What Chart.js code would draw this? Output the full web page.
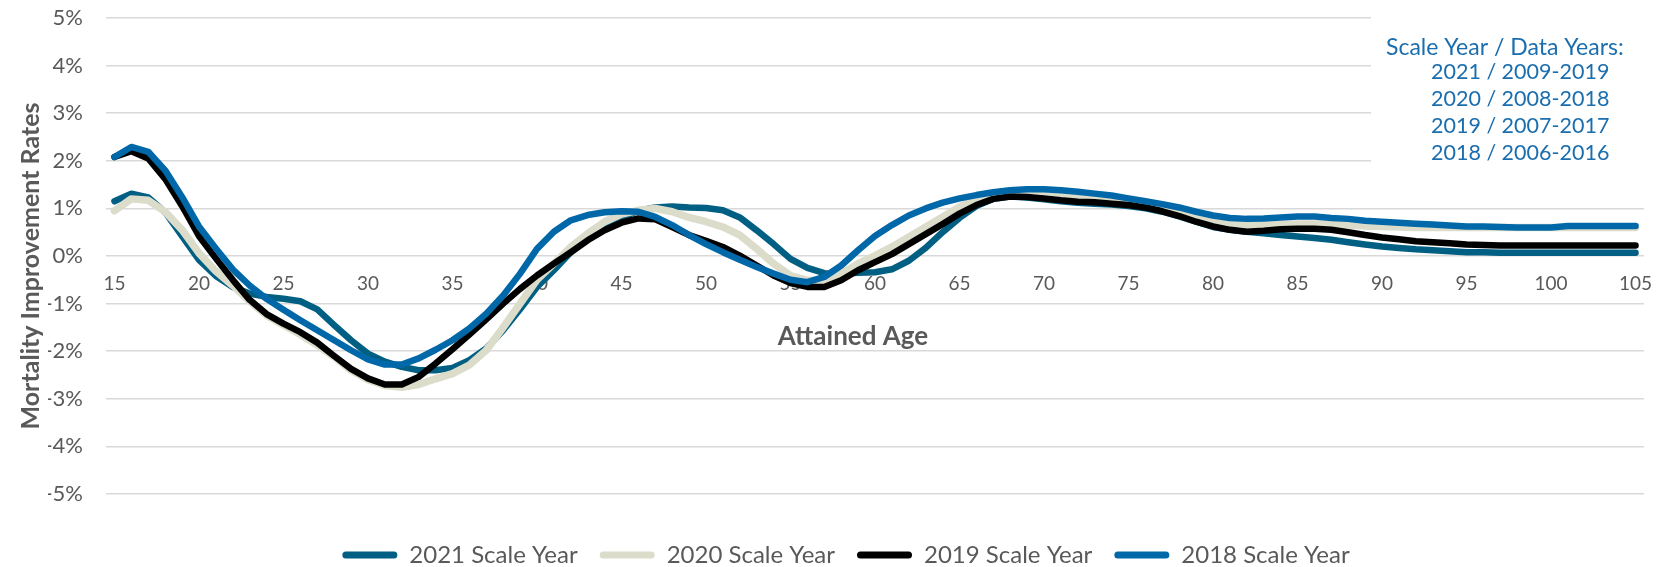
<!DOCTYPE html>
<html>
<head>
<meta charset="utf-8">
<script src="https://cdn.jsdelivr.net/npm/chart.js@4.4.1/dist/chart.umd.min.js"></script>
<style>
  html, body { margin: 0; padding: 0; background: #fff; }
  #wrap { width: 1658px; height: 567px; }
</style>
</head>
<body>
<div id="wrap"><canvas id="grafico_mir"></canvas></div>
<script>
const ages = [15,16,17,18,19,20,21,22,23,24,25,26,27,28,29,30,31,32,33,34,35,36,37,38,39,40,
  41,42,43,44,45,46,47,48,49,50,51,52,53,54,55,56,57,58,59,60,61,62,63,64,65,66,67,68,69,70,
  71,72,73,74,75,76,77,78,79,80,81,82,83,84,85,86,87,88,89,90,91,92,93,94,95,96,97,98,99,100,
  101,102,103,104,105];
const tickAges = [15,20,25,30,35,40,45,50,55,60,65,70,75,80,85,90,95,100,105];
const yTicks = [-5,-4,-3,-2,-1,0,1,2,3,4,5];

// mortality improvement rates, in %
const scale2021 = [1.15,1.31,1.23,0.92,0.42,-0.08,-0.42,-0.65,-0.79,-0.86,-0.9,-0.95,-1.12,-1.45,-1.77,-2.05,
  -2.22,-2.33,-2.4,-2.4,-2.35,-2.19,-1.94,-1.56,-1.12,-0.65,-0.3,0.08,0.37,0.61,0.81,0.95,1.02,1.04,1.02,1.01,
  0.96,0.81,0.54,0.25,-0.06,-0.25,-0.36,-0.37,-0.35,-0.34,-0.28,-0.1,0.17,0.5,0.8,1.05,1.2,1.25,1.23,1.19,
  1.15,1.12,1.1,1.08,1.05,1.0,0.93,0.83,0.72,0.61,0.55,0.51,0.48,0.44,0.41,0.38,0.34,0.29,0.24,0.2,
  0.17,0.14,0.12,0.1,0.08,0.08,0.07,0.07,0.07,0.07,0.07,0.07,0.07,0.07,0.07];
const scale2020 = [0.95,1.2,1.17,0.93,0.55,0.06,-0.32,-0.62,-0.95,-1.25,-1.45,-1.65,-1.87,-2.12,-2.4,-2.6,
  -2.72,-2.76,-2.7,-2.58,-2.47,-2.29,-1.98,-1.5,-1.0,-0.5,-0.16,0.19,0.47,0.72,0.88,0.96,1.0,0.93,0.81,0.72,
  0.61,0.44,0.15,-0.16,-0.41,-0.51,-0.51,-0.37,-0.16,0.01,0.19,0.4,0.61,0.82,1.03,1.2,1.32,1.37,1.38,1.36,
  1.32,1.28,1.24,1.2,1.16,1.11,1.04,0.96,0.86,0.76,0.69,0.65,0.65,0.66,0.67,0.67,0.66,0.65,0.63,0.62,
  0.61,0.6,0.6,0.6,0.6,0.6,0.6,0.6,0.6,0.6,0.6,0.6,0.6,0.6,0.6];
const scale2019 = [2.08,2.2,2.05,1.62,1.05,0.42,-0.05,-0.5,-0.92,-1.22,-1.42,-1.6,-1.82,-2.1,-2.37,-2.57,
  -2.7,-2.7,-2.54,-2.26,-1.96,-1.65,-1.33,-1.0,-0.69,-0.41,-0.16,0.08,0.33,0.54,0.7,0.79,0.77,0.61,0.44,0.32,
  0.19,0.01,-0.2,-0.41,-0.57,-0.65,-0.65,-0.51,-0.3,-0.13,0.04,0.25,0.46,0.67,0.89,1.07,1.2,1.25,1.24,1.21,
  1.17,1.14,1.13,1.1,1.07,1.02,0.94,0.84,0.72,0.62,0.55,0.51,0.53,0.56,0.57,0.57,0.55,0.5,0.44,0.39,
  0.35,0.31,0.29,0.27,0.24,0.23,0.22,0.22,0.22,0.22,0.22,0.22,0.22,0.22,0.22];
const scale2018 = [2.08,2.29,2.19,1.8,1.24,0.62,0.16,-0.28,-0.62,-0.9,-1.13,-1.35,-1.56,-1.77,-1.98,-2.17,
  -2.28,-2.28,-2.15,-1.97,-1.77,-1.52,-1.21,-0.83,-0.37,0.15,0.51,0.75,0.86,0.92,0.94,0.93,0.82,0.65,0.44,0.25,
  0.08,-0.08,-0.23,-0.37,-0.5,-0.55,-0.44,-0.2,0.12,0.42,0.65,0.85,1.0,1.12,1.21,1.28,1.34,1.38,1.4,1.4,
  1.38,1.35,1.31,1.27,1.21,1.15,1.09,1.02,0.93,0.85,0.8,0.78,0.79,0.81,0.83,0.83,0.8,0.78,0.74,0.72,
  0.7,0.68,0.66,0.64,0.62,0.62,0.61,0.6,0.6,0.6,0.63,0.63,0.63,0.63,0.63];

const notaLinhas = ['Scale Year / Data Years:', '2021 / 2009-2019', '2020 / 2008-2018', '2019 / 2007-2017', '2018 / 2006-2016'];
const tituloX = 'Attained Age';
const tituloY = 'Mortality Improvement Rates';

const fonte = 'Lato, "Open Sans", sans-serif';
const cinza = '#595959';

// caixa de texto no canto superior direito + títulos dos eixos
const notaPlugin = {
  id: 'nota',
  afterDraw(chart) {
    const c = chart.ctx;
    c.save();
    c.fillStyle = '#fff';
    c.fillRect(1371, 0, 300, 176);
    c.fillStyle = '#1B6EAE';
    c.textBaseline = 'middle';
    c.textAlign = 'left';
    c.font = '23px ' + fonte;
    c.fillText(notaLinhas[0], 1386, 48);
    c.font = '21.5px ' + fonte;
    for (let i = 1; i < notaLinhas.length; i++) {
      c.fillText(notaLinhas[i], 1431, 72 + (i - 1) * 27.1);
    }
    c.fillStyle = cinza;
    c.font = 'bold 26px ' + fonte;
    c.textAlign = 'center';
    c.fillText(tituloX, 853, chart.scales.y.getPixelForValue(0) + 81);
    c.font = 'bold 25px ' + fonte;
    c.translate(31, 266);
    c.rotate(-Math.PI / 2);
    c.fillText(tituloY, 0, 0);
    c.restore();
  }
};

function serie(label, data, cor, largura, ordem) {
  return {
    label: label,
    data: data,
    borderColor: cor,
    backgroundColor: cor,
    borderWidth: largura,
    pointRadius: 0,
    tension: 0,
    borderCapStyle: 'round',
    borderJoinStyle: 'round',
    order: ordem
  };
}

const ctx = document.getElementById('grafico_mir').getContext('2d');
const meuGrafico = new Chart(ctx, {
  type: 'line',
  data: {
    labels: ages,
    datasets: [
      serie('2021 Scale Year', scale2021, '#005F82', 6.5, 4),
      serie('2020 Scale Year', scale2020, '#DCDCCB', 7.5, 3),
      serie('2019 Scale Year', scale2019, '#000000', 6.5, 2),
      serie('2018 Scale Year', scale2018, '#0068A8', 6.5, 1)
    ]
  },
  options: {
    responsive: true,
    maintainAspectRatio: false,
    animation: false,
    layout: { padding: { top: 18, right: 14, left: 48, bottom: -10 } },
    plugins: {
      tooltip: { enabled: false },
      legend: {
        display: true,
        position: 'bottom',
        // título vazio: só afasta a legenda da área do gráfico
        title: { display: true, text: '', font: { size: 1, lineHeight: 1 }, padding: { top: 26, bottom: 0 } },
        labels: {
          boxWidth: 55,
          boxHeight: 7,
          useBorderRadius: true,
          borderRadius: 3.5,
          color: cinza,
          font: { family: fonte, size: 24 },
          padding: 22,
          sort: (a, b) => a.datasetIndex - b.datasetIndex,
          generateLabels: chart => Chart.defaults.plugins.legend.labels.generateLabels(chart)
            .map(l => Object.assign(l, { lineWidth: 0 }))
        }
      }
    },
    scales: {
      x: {
        type: 'category',
        position: { y: 0 },
        offset: true,
        grid: { display: false, drawTicks: false },
        border: { display: false },
        ticks: {
          autoSkip: false,
          maxRotation: 0,
          padding: 16,
          color: cinza,
          font: { family: fonte, size: 19 },
          callback: function (val) {
            const a = this.getLabelForValue(val);
            return tickAges.includes(Number(a)) ? a : '';
          }
        },
        afterFit: s => { s.paddingLeft = 0; s.paddingRight = 0; }
      },
      y: {
        min: yTicks[0],
        max: yTicks[yTicks.length - 1],
        grid: { color: '#D9D9D9', lineWidth: 1.5, drawTicks: false },
        border: { display: false },
        afterBuildTicks: s => { s.ticks = yTicks.map(v => ({ value: v })); },
        ticks: {
          padding: 23,
          color: cinza,
          font: { family: fonte, size: 22 },
          callback: v => v + '%'
        },
        afterFit: s => { s.width = 58; s.paddingTop = 0; s.paddingBottom = 0; }
      }
    }
  },
  plugins: [notaPlugin]
});
</script>
</body>
</html>
